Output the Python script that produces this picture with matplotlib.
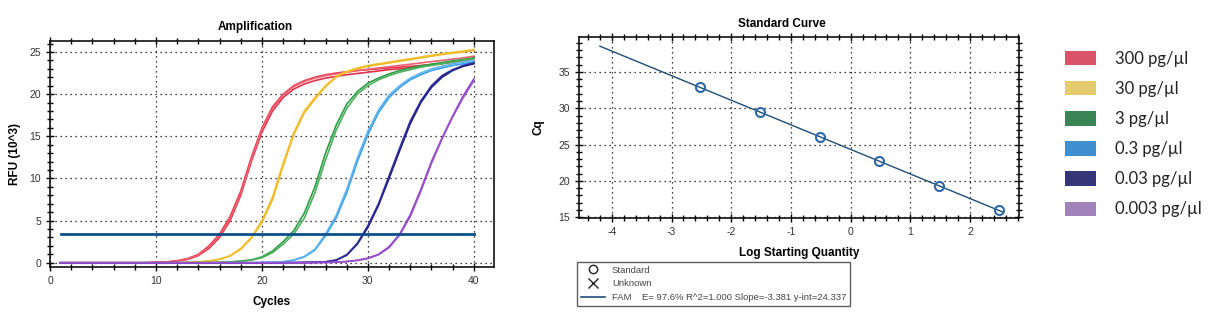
import numpy as np
import matplotlib.pyplot as plt
from matplotlib.patches import Patch
from matplotlib.lines import Line2D
from matplotlib.ticker import MultipleLocator

plt.rcParams['font.family'] = ['Liberation Sans', 'DejaVu Sans']
plt.rcParams['axes.unicode_minus'] = False

# amplification data (RFU x10^3), cycles 1..40, two or three replicates per dilution
cycles = np.arange(1, 41)

red_1 = [0, 0, 0, 0, 0, 0, 0, 0, 0, 0.05, 0.1, 0.25, 0.5, 1.0, 2.0, 3.4, 5.5, 8.5, 12.5, 16.0,
         18.5, 20.0, 21.0, 21.6, 22.0, 22.3, 22.5, 22.65, 22.8, 22.9, 23.0, 23.1, 23.2, 23.3, 23.4, 23.5, 23.65, 23.8, 24.0, 24.2]
red_2 = [0, 0, 0, 0, 0, 0, 0, 0, 0, 0.04, 0.08, 0.2, 0.4, 0.85, 1.7, 3.0, 5.0, 8.0, 12.0, 15.5,
         18.0, 19.6, 20.6, 21.2, 21.6, 21.9, 22.1, 22.3, 22.45, 22.6, 22.75, 22.9, 23.0, 23.15, 23.3, 23.45, 23.6, 23.8, 24.0, 24.3]
red_3 = [0, 0, 0, 0, 0, 0, 0, 0, 0, 0.05, 0.09, 0.22, 0.45, 0.9, 1.85, 3.2, 5.2, 8.2, 12.2, 15.8,
         18.3, 19.9, 20.9, 21.5, 21.9, 22.2, 22.4, 22.6, 22.8, 22.95, 23.1, 23.25, 23.4, 23.55, 23.7, 23.85, 24.0, 24.15, 24.3, 24.5]
yellow_1 = [0, 0, 0, 0, 0, 0, 0, 0, 0, 0, 0, 0, 0.05, 0.1, 0.2, 0.4, 0.8, 1.6, 2.9, 4.8,
            7.5, 11.5, 15.2, 17.8, 19.4, 20.9, 22.0, 22.6, 23.0, 23.3, 23.5, 23.7, 23.9, 24.1, 24.3, 24.5, 24.7, 24.85, 25.0, 25.2]
yellow_2 = [0, 0, 0, 0, 0, 0, 0, 0, 0, 0, 0, 0, 0.05, 0.1, 0.2, 0.42, 0.85, 1.7, 3.0, 5.0,
            7.8, 11.8, 15.4, 18.0, 19.6, 21.0, 22.1, 22.7, 23.1, 23.4, 23.6, 23.8, 24.0, 24.2, 24.4, 24.6, 24.8, 24.95, 25.1, 25.3]
green_1 = [0, 0, 0, 0, 0, 0, 0, 0, 0, 0, 0, 0, 0, 0, 0, 0.05, 0.1, 0.2, 0.35, 0.7,
           1.4, 2.5, 3.8, 5.9, 9.0, 13.0, 16.3, 18.8, 20.3, 21.3, 21.9, 22.4, 22.8, 23.1, 23.35, 23.55, 23.75, 23.95, 24.1, 24.3]
green_2 = [0, 0, 0, 0, 0, 0, 0, 0, 0, 0, 0, 0, 0, 0, 0, 0.04, 0.09, 0.18, 0.3, 0.6,
           1.2, 2.2, 3.4, 5.3, 8.3, 12.2, 15.7, 18.3, 20.0, 21.0, 21.7, 22.2, 22.6, 22.9, 23.2, 23.4, 23.6, 23.8, 24.0, 24.2]
blue_1 = [0, 0, 0, 0, 0, 0, 0, 0, 0, 0, 0, 0, 0, 0, 0, 0, 0, 0, 0, 0.03,
          0.06, 0.1, 0.3, 0.7, 1.5, 3.2, 5.3, 8.3, 12.0, 15.2, 17.8, 19.6, 20.8, 21.7, 22.3, 22.8, 23.1, 23.4, 23.6, 23.8]
blue_2 = [0, 0, 0, 0, 0, 0, 0, 0, 0, 0, 0, 0, 0, 0, 0, 0, 0, 0, 0, 0.03,
          0.06, 0.12, 0.33, 0.75, 1.6, 3.4, 5.6, 8.7, 12.4, 15.6, 18.1, 19.9, 21.0, 21.9, 22.5, 23.0, 23.3, 23.6, 23.8, 24.0]
navy_1 = [0, 0, 0, 0, 0, 0, 0, 0, 0, 0, 0, 0, 0, 0, 0, 0, 0, 0, 0, 0,
          0, 0, 0.02, 0.04, 0.07, 0.1, 0.3, 0.9, 2.2, 4.2, 6.8, 10.0, 13.3, 16.5, 19.0, 20.8, 22.0, 22.8, 23.3, 23.6]
navy_2 = [0, 0, 0, 0, 0, 0, 0, 0, 0, 0, 0, 0, 0, 0, 0, 0, 0, 0, 0, 0,
          0, 0, 0.02, 0.04, 0.07, 0.12, 0.32, 0.95, 2.3, 4.4, 7.0, 10.3, 13.6, 16.8, 19.2, 21.0, 22.2, 22.9, 23.4, 23.7]
purple_1 = [0, 0, 0, 0, 0, 0, 0, 0, 0, 0, 0, 0, 0, 0, 0, 0, 0, 0, 0, 0,
            0, 0, 0, 0, 0.02, 0.04, 0.08, 0.15, 0.3, 0.55, 1.0, 1.9, 3.4, 5.7, 8.7, 12.0, 14.8, 17.4, 19.8, 21.8]
purple_2 = [0, 0, 0, 0, 0, 0, 0, 0, 0, 0, 0, 0, 0, 0, 0, 0, 0, 0, 0, 0,
            0, 0, 0, 0, 0.02, 0.04, 0.07, 0.14, 0.28, 0.5, 0.95, 1.8, 3.3, 5.5, 8.5, 11.8, 14.7, 17.3, 19.6, 21.6]

threshold = 3.4

# standard curve
log_qty = [2.48, 1.48, 0.48, -0.52, -1.52, -2.52]
cq = [15.95, 19.3, 22.7, 26.1, 29.45, 32.9]
slope, intercept = -3.381, 24.337
fit_range = [-4.2, 2.55]
fit_text = "FAM    E= 97.6% R^2=1.000 Slope=-3.381 y-int=24.337"

# legend
conc_labels = ["300 pg/µl", "30 pg/µl", "3 pg/µl", "0.3 pg/µl", "0.03 pg/µl", "0.003 pg/µl"]
legend_colors = ["#d95466", "#e5cc6e", "#3a8455", "#3f8fd1", "#363579", "#a283b9"]

curves = [
    (red_1, "#e83a50"), (red_2, "#e0304a"), (red_3, "#f06070"),
    (yellow_1, "#f2b21e"), (yellow_2, "#f0c030"),
    (green_1, "#2e9e44"), (green_2, "#50b060"),
    (blue_1, "#3a9ee6"), (blue_2, "#60b4ee"),
    (navy_1, "#1e1e86"), (navy_2, "#2a2a9a"),
    (purple_1, "#8a3ec4"), (purple_2, "#9a50d0"),
]

W, H = 1228, 328
fig = plt.figure(figsize=(W / 100, H / 100), dpi=100)
fig.patch.set_facecolor("white")

grid_style = dict(color="black", linestyle=(0, (1, 3)), linewidth=0.9)
tick_font = 7.5


def style_axes(ax, right_ticks):
    for s in ax.spines.values():
        s.set_linewidth(1.2)
        s.set_color("#111111")
    ax.tick_params(which="both", direction="inout", top=True, right=right_ticks,
                   labelsize=tick_font, labelcolor="#333333", width=1)
    ax.tick_params(which="major", length=6)
    ax.tick_params(which="minor", length=4)
    ax.grid(True, which="major", **grid_style)
    ax.set_axisbelow(True)


# ---- amplification plot
ax1 = fig.add_axes([50 / W, 1 - 267 / H, 444 / W, 226 / H])
for ys, c in curves:
    ax1.plot(cycles, ys, color=c, linewidth=1.2)
ax1.plot([cycles[0], cycles[-1]], [threshold, threshold], color="#0b4f8c", linewidth=2)
ax1.set_xlim(0, 41.9)
ax1.set_ylim(-0.5, 26.3)
ax1.xaxis.set_major_locator(MultipleLocator(10))
ax1.xaxis.set_minor_locator(MultipleLocator(2))
ax1.yaxis.set_major_locator(MultipleLocator(5))
ax1.yaxis.set_minor_locator(MultipleLocator(1))
style_axes(ax1, False)
ax1.set_title("Amplification", fontsize=8.5, fontweight="bold", x=0.462, pad=8)
ax1.set_xlabel("Cycles", fontsize=8.5, fontweight="bold", labelpad=7)
ax1.set_ylabel("RFU (10^3)", fontsize=8.5, fontweight="bold", labelpad=6)

# ---- standard curve
ax2 = fig.add_axes([579 / W, 1 - 218 / H, 440 / W, 181 / H])
fx = np.array(fit_range)
ax2.plot(fx, slope * fx + intercept, color="#1f4e79", linewidth=1.0)
ax2.plot(log_qty, cq, linestyle="none", marker="o", markersize=6.5,
         markerfacecolor="none", markeredgecolor="#2e68a8", markeredgewidth=1.5)
ax2.set_xlim(-4.55, 2.82)
ax2.set_ylim(14.9, 39.8)
ax2.xaxis.set_major_locator(MultipleLocator(1))
ax2.xaxis.set_minor_locator(MultipleLocator(0.2))
ax2.yaxis.set_major_locator(MultipleLocator(5))
ax2.yaxis.set_minor_locator(MultipleLocator(1))
style_axes(ax2, True)
ax2.set_title("Standard Curve", fontsize=8.5, fontweight="bold", x=0.461, pad=7)
ax2.set_xlabel("Log Starting Quantity", fontsize=8.5, fontweight="bold", labelpad=7)
ax2.set_ylabel("Cq", fontsize=8.5, fontweight="bold", labelpad=10)

fit_handles = [
    Line2D([], [], linestyle="none", marker="o", markerfacecolor="none",
           markeredgecolor="#222222", markersize=6),
    Line2D([], [], linestyle="none", marker="x", color="#222222", markersize=7),
    Line2D([], [], color="#1f4e79", linewidth=1.2),
]
leg2 = fig.legend(fit_handles, ["Standard", "Unknown", fit_text],
                  loc="upper left", bbox_to_anchor=(577 / W, 1 - 262 / H),
                  fontsize=6.8, frameon=True, fancybox=False, borderpad=0.4,
                  labelspacing=0.5, handlelength=2.6, handletextpad=0.7,
                  borderaxespad=0)
leg2.get_frame().set_edgecolor("#333333")
leg2.get_frame().set_linewidth(1.0)
for t in leg2.get_texts():
    t.set_color("#444444")

# ---- concentration legend
handles = [Patch(facecolor=c, edgecolor="none") for c in legend_colors]
leg = fig.legend(handles, conc_labels, loc="upper left",
                 bbox_to_anchor=(1058 / W, 1 - 44 / H), frameon=False,
                 prop={"family": ["Lato", "DejaVu Sans"], "size": 12},
                 handlelength=1.85, handleheight=0.96, labelspacing=0.85,
                 handletextpad=1.15, borderaxespad=0)
for t in leg.get_texts():
    t.set_color("#222222")

fig.savefig("out.png", dpi=100, facecolor="white")
